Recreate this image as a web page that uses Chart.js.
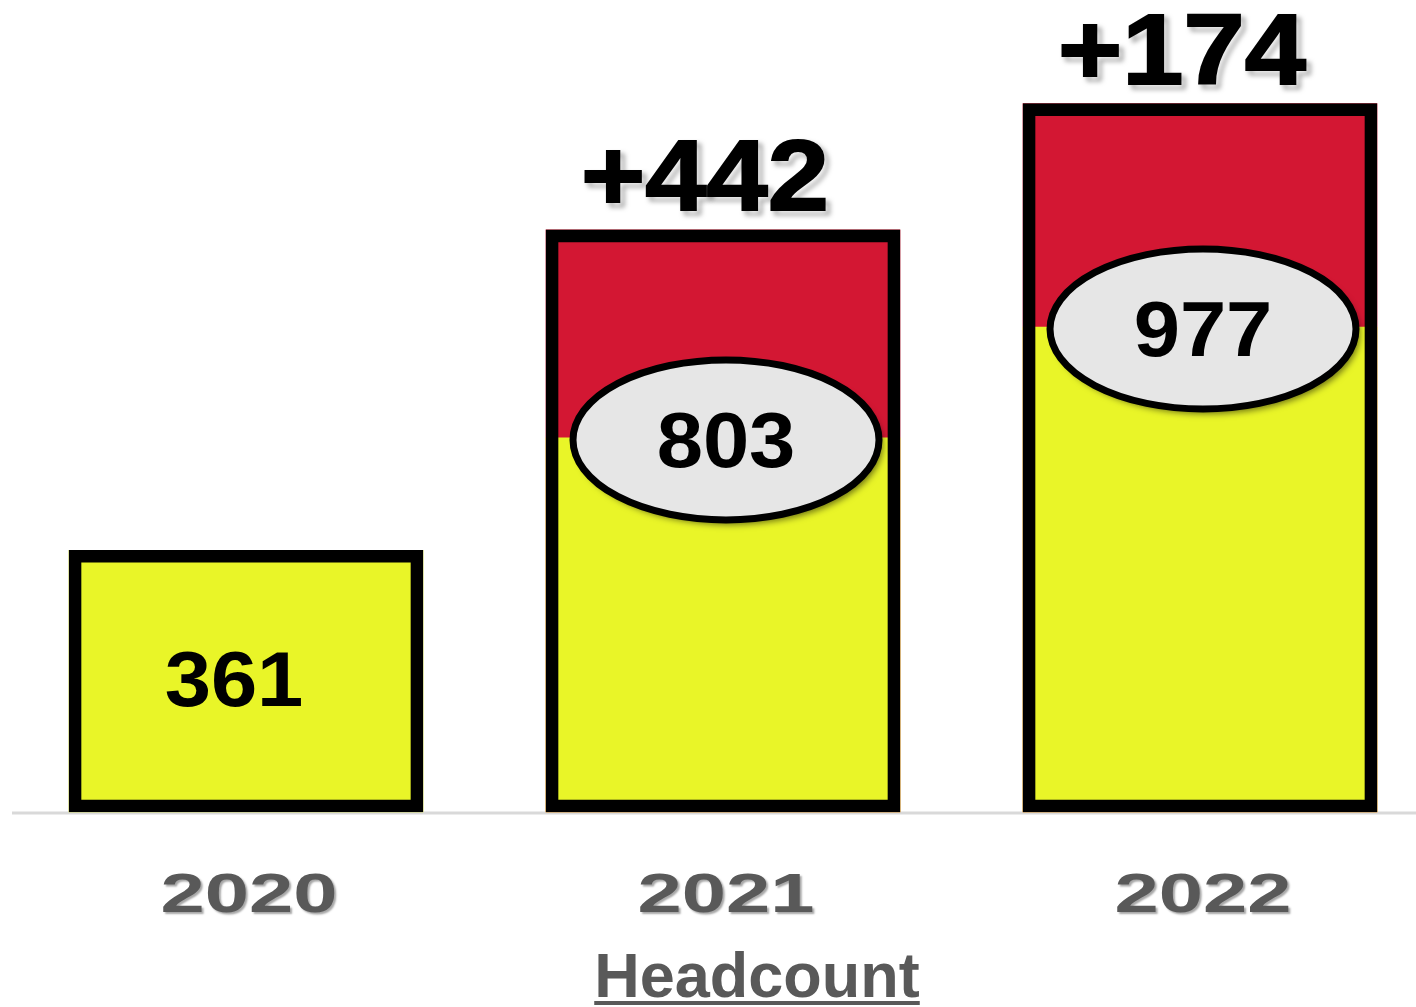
<!DOCTYPE html>
<html>
<head>
<meta charset="utf-8">
<script src="https://cdn.jsdelivr.net/npm/chart.js@4.4.0/dist/chart.umd.min.js"></script>
<style>
    body { margin: 0; background: #fff; }
    .wrap { width: 1416px; height: 1007px; }
</style>
</head>
<body>
<div class="wrap"><canvas id="headcountChart"></canvas></div>
<script>
// Data
const years = ['2020', '2021', '2022'];
const totalHeadcount = [361, 803, 977];      // red part reaches the total
const yellowPart = [361, 516, 669];          // yellow part as drawn
const increase = [null, 442, 174];

const yellow = '#e9f528';
const red = '#d31733';

// Labels, ellipses and baseline drawn on top of the bars
const labelPlugin = {
    id: 'labels',
    beforeDatasetsDraw(chart) {
        const ctx = chart.ctx;
        const y0 = chart.scales.y.getPixelForValue(0);
        ctx.save();
        ctx.strokeStyle = '#d9d9d9';
        ctx.lineWidth = 3;
        ctx.beginPath();
        ctx.moveTo(12, y0 + 1);
        ctx.lineTo(chart.width, y0 + 1);
        ctx.stroke();
        ctx.restore();
    },
    afterDatasetsDraw(chart) {
        const ctx = chart.ctx;
        const yScale = chart.scales.y;
        const bars = chart.getDatasetMeta(2).data;

        bars.forEach((bar, i) => {
            // increase above the bar
            if (increase[i] !== null) {
                ctx.save();
                ctx.translate(bar.x - 18, bar.y - 20);
                ctx.scale(1.1, 1);
                ctx.font = 'bold 100px "Liberation Sans", Arial, sans-serif';
                ctx.textAlign = 'center';
                ctx.textBaseline = 'alphabetic';
                ctx.shadowColor = 'rgba(0,0,0,0.55)';
                ctx.shadowBlur = 5;
                ctx.shadowOffsetX = 4;
                ctx.shadowOffsetY = 4;
                ctx.fillStyle = '#000';
                ctx.strokeStyle = '#000';
                ctx.lineWidth = 2;
                ctx.strokeText('+' + increase[i], 0, 0);
                ctx.shadowColor = 'transparent';
                ctx.fillText('+' + increase[i], 0, 0);
                ctx.restore();
            }

            // total value
            let cx = bar.x, cy;
            if (increase[i] !== null) {
                cx = bar.x + 3;
                cy = yScale.getPixelForValue(yellowPart[i]) + 2;
                ctx.save();
                ctx.shadowColor = 'rgba(0,0,0,0.5)';
                ctx.shadowBlur = 6;
                ctx.shadowOffsetX = 4;
                ctx.shadowOffsetY = 5;
                ctx.beginPath();
                ctx.ellipse(cx, cy, 153, 80, 0, 0, Math.PI * 2);
                ctx.fillStyle = '#e6e6e6';
                ctx.fill();
                ctx.shadowColor = 'transparent';
                ctx.lineWidth = 7;
                ctx.strokeStyle = '#000';
                ctx.stroke();
                ctx.restore();
            } else {
                cx = bar.x - 12;
                cy = (bar.y + bar.base) / 2 - 2;
            }
            ctx.save();
            ctx.translate(cx, cy);
            ctx.scale(1.08, 1);
            ctx.font = 'bold 77px "Liberation Sans", Arial, sans-serif';
            ctx.textAlign = 'center';
            ctx.textBaseline = 'alphabetic';
            ctx.fillStyle = '#000';
            ctx.fillText(String(totalHeadcount[i]), 0, 27);
            ctx.restore();

            // year label
            ctx.save();
            ctx.translate(bar.x + 3, 912);
            ctx.scale(1.42, 1);
            ctx.font = 'bold 56px "Liberation Sans", Arial, sans-serif';
            ctx.textAlign = 'center';
            ctx.shadowColor = 'rgba(0,0,0,0.35)';
            ctx.shadowBlur = 2;
            ctx.shadowOffsetX = 2;
            ctx.shadowOffsetY = 2;
            ctx.fillStyle = '#595959';
            ctx.fillText(years[i], 0, 0);
            ctx.restore();
        });

        // title
        ctx.save();
        ctx.font = 'bold 63px "Liberation Sans", Arial, sans-serif';
        ctx.textAlign = 'center';
        ctx.fillStyle = '#595959';
        const tx = 757;
        ctx.fillText('Headcount', tx, 997);
        const w = ctx.measureText('Headcount').width;
        ctx.fillRect(tx - w / 2, 1001, w, 4);
        ctx.restore();
    }
};

const ctx = document.getElementById('headcountChart').getContext('2d');
new Chart(ctx, {
    type: 'bar',
    data: {
        labels: years,
        datasets: [
            {
                data: yellowPart,
                backgroundColor: yellow,
                borderWidth: 0,
                order: 1
            },
            {
                data: totalHeadcount.map((v, i) => increase[i] === null ? null : v),
                backgroundColor: red,
                borderWidth: 0,
                order: 2
            },
            {
                data: totalHeadcount,
                backgroundColor: 'rgba(0,0,0,0)',
                borderColor: '#000',
                borderWidth: 12,
                borderSkipped: false,
                order: 0
            }
        ]
    },
    options: {
        responsive: true,
        maintainAspectRatio: false,
        animation: false,
        datasets: {
            bar: {
                grouped: false,
                barThickness: 354,
                clip: false
            }
        },
        layout: {
            padding: { left: 246, right: 216, top: 0, bottom: 195 }
        },
        scales: {
            x: { display: false, offset: false },
            y: { display: false, min: 0, max: 1120 }
        },
        plugins: {
            legend: { display: false },
            tooltip: { enabled: false }
        }
    },
    plugins: [labelPlugin]
});
</script>
</body>
</html>
